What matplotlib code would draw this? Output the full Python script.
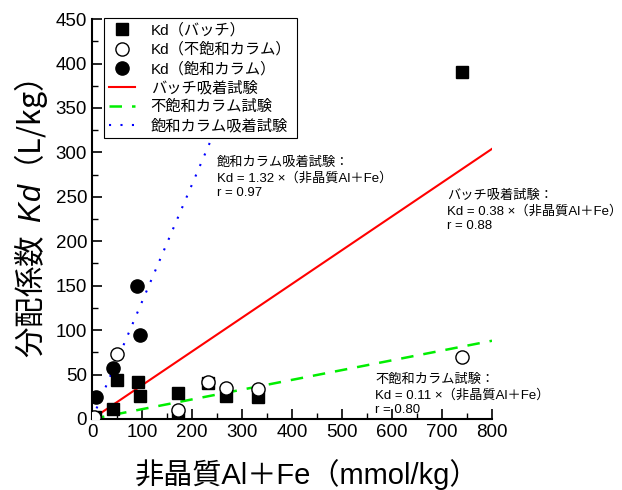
import matplotlib
matplotlib.use("Agg")
import matplotlib.pyplot as plt
from matplotlib.ticker import MultipleLocator
import numpy as np

plt.rcParams['font.family'] = ['Liberation Sans', 'Noto Sans CJK JP', 'DejaVu Sans']
plt.rcParams['mathtext.fontset'] = 'custom'
plt.rcParams['mathtext.it'] = 'Liberation Sans:italic'
plt.rcParams['mathtext.rm'] = 'Liberation Sans'

# Amorphous Al+Fe (mmol/kg) and distribution coefficients Kd (L/kg)
batch_x = [6, 42, 50, 92, 96, 172, 172, 232, 268, 332, 740]
batch_kd = [2, 11, 44, 42, 26, 29, 3, 41, 26, 25, 390]

unsat_x = [4, 50, 172, 232, 268, 332, 740]
unsat_kd = [2, 73, 10, 42, 35, 34, 70]

sat_x = [8, 42, 90, 96]
sat_kd = [25, 57, 150, 95]

# Regression slopes
slope_batch = 0.38
slope_unsat = 0.11
slope_sat = 1.32

fig = plt.figure(figsize=(6.22, 4.9), dpi=100)
ax = fig.add_axes([0.148, 0.145, 0.643, 0.816])

ax.plot(batch_x, batch_kd, 's', color='black', ms=8.5, label='Kd（バッチ）', zorder=3)
ax.plot(unsat_x, unsat_kd, 'o', mfc='white', mec='black', mew=1.0, ms=9.5,
        label='Kd（不飽和カラム）', zorder=4)
ax.plot(sat_x, sat_kd, 'o', color='black', ms=9.5, label='Kd（飽和カラム）', zorder=3)

xl = np.array([0, 800])
ax.plot(xl, slope_batch * xl, '-', color='#ff0000', lw=1.5, label='バッチ吸着試験', zorder=2)
ax.plot(xl, slope_unsat * xl, '--', color='#00ee00', lw=1.8, dashes=(5, 4),
        label='不飽和カラム試験', zorder=2)
ax.plot(xl, slope_sat * xl, ':', color='#0000ff', lw=1.5, dashes=(1, 4.5),
        label='飽和カラム吸着試験', zorder=2)

ax.set_xlim(0, 800)
ax.set_ylim(0, 450)
ax.xaxis.set_major_locator(MultipleLocator(100))
ax.xaxis.set_minor_locator(MultipleLocator(50))
ax.yaxis.set_major_locator(MultipleLocator(50))
ax.yaxis.set_minor_locator(MultipleLocator(25))
ax.tick_params(which='major', direction='in', length=7, width=1.2, labelsize=13.5)
ax.tick_params(which='minor', direction='in', length=4, width=1.0)
for s in ['top', 'right']:
    ax.spines[s].set_visible(False)
for s in ['left', 'bottom']:
    ax.spines[s].set_linewidth(1.5)

ax.set_xlabel('非晶質Al＋Fe（mmol/kg）', fontsize=21)
ax.xaxis.set_label_coords(0.537, -0.10)
ax.set_ylabel('分配係数  $Kd$（L/kg）', fontsize=22, labelpad=4,
              family='Noto Sans CJK JP')

leg = ax.legend(loc='upper left', bbox_to_anchor=(0.03, 1.003), fontsize=11,
                frameon=True, fancybox=False, edgecolor='black', framealpha=1,
                handlelength=1.7, borderpad=0.35, labelspacing=0.3,
                handletextpad=1.0, borderaxespad=0)
leg.get_frame().set_linewidth(0.8)
leg.set_zorder(10)

fs = 9.5
ls = 1.32
ax.text(250, 295, '飽和カラム吸着試験：\nKd = 1.32 ×（非晶質Al＋Fe）\nr = 0.97',
        fontsize=fs, va='top', ha='left', linespacing=ls)
ax.text(710, 258, 'バッチ吸着試験：\nKd = 0.38 ×（非晶質Al＋Fe）\nr = 0.88',
        fontsize=fs, va='top', ha='left', linespacing=ls)
ax.text(566, 51, '不飽和カラム試験：\nKd = 0.11 ×（非晶質Al＋Fe）\nr = 0.80',
        fontsize=fs, va='top', ha='left', linespacing=ls)

fig.savefig('out.png', dpi=100)
